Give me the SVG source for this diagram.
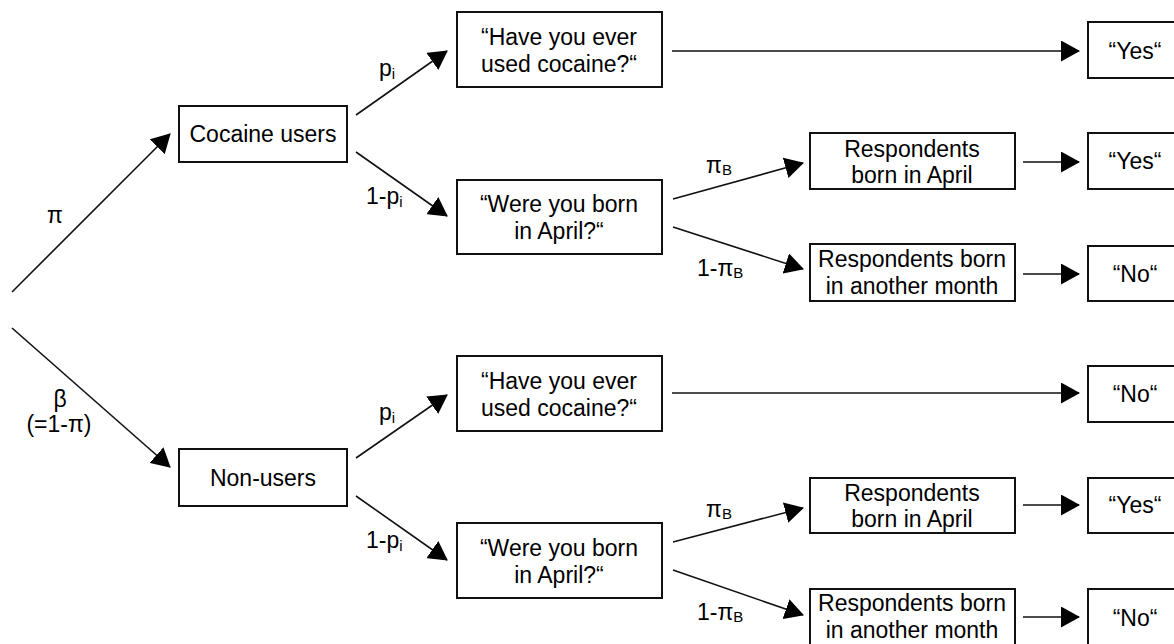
<svg xmlns="http://www.w3.org/2000/svg" width="1174" height="644" viewBox="0 0 1174 644">
  <style>
    .box { fill: #fff; stroke: #111; stroke-width: 2; }
    .t { font-family: "Liberation Sans", Arial, sans-serif; font-size: 23px; fill: #000; text-anchor: middle; }
    .lbl { font-family: "Liberation Sans", Arial, sans-serif; font-size: 23px; fill: #000; }
    .sub { font-size: 15px; }
    .edge { stroke: #111; stroke-width: 1.6; fill: none; marker-end: url(#arrow); }
  </style>
  <defs>
    <marker id="arrow" viewBox="0 0 19 21" refX="18" refY="10.5" markerWidth="19" markerHeight="21" markerUnits="userSpaceOnUse" orient="auto">
      <path d="M0,0 L19,10.5 L0,21 Z" fill="#000"/>
    </marker>
  </defs>
  <rect width="1174" height="644" fill="#fff"/>

  <!-- branches -->
  <g id="connectors">
    <line class="edge" x1="12" y1="292" x2="170" y2="134"/>
    <line class="edge" x1="12" y1="328" x2="170" y2="467"/>
    <line class="edge" x1="356" y1="115" x2="447" y2="51"/>
    <line class="edge" x1="356" y1="152" x2="447" y2="216"/>
    <line class="edge" x1="356" y1="458" x2="447" y2="395"/>
    <line class="edge" x1="356" y1="496" x2="447" y2="560"/>
    <line class="edge" x1="672" y1="51" x2="1079" y2="51"/>
    <line class="edge" x1="673" y1="199" x2="803" y2="163"/>
    <line class="edge" x1="673" y1="227" x2="803" y2="269"/>
    <line class="edge" x1="1023" y1="162" x2="1079" y2="162"/>
    <line class="edge" x1="1023" y1="274" x2="1079" y2="274"/>
    <line class="edge" x1="672" y1="393" x2="1079" y2="393"/>
    <line class="edge" x1="673" y1="542" x2="803" y2="508"/>
    <line class="edge" x1="673" y1="570" x2="803" y2="615"/>
    <line class="edge" x1="1023" y1="505" x2="1079" y2="505"/>
    <line class="edge" x1="1023" y1="617" x2="1079" y2="617"/>

    <!-- branch probabilities -->
    <text class="lbl" x="55" y="223" text-anchor="middle">π</text>
    <text class="lbl" x="60" y="407" text-anchor="middle">β</text>
    <text class="lbl" x="59" y="432" text-anchor="middle">(=1-π)</text>
    <text class="lbl" x="379" y="76">p<tspan class="sub" dy="3">i</tspan></text>
    <text class="lbl" x="366" y="204">1-p<tspan class="sub" dy="3">i</tspan></text>
    <text class="lbl" x="379" y="420">p<tspan class="sub" dy="3">i</tspan></text>
    <text class="lbl" x="366" y="548">1-p<tspan class="sub" dy="3">i</tspan></text>
    <text class="lbl" x="706" y="173">π<tspan class="sub" dy="2">B</tspan></text>
    <text class="lbl" x="697" y="276">1-π<tspan class="sub" dy="2">B</tspan></text>
    <text class="lbl" x="706" y="517">π<tspan class="sub" dy="2">B</tspan></text>
    <text class="lbl" x="697" y="620">1-π<tspan class="sub" dy="2">B</tspan></text>
  </g>

  <!-- population groups -->
  <g id="cocaine-users">
    <rect class="box" x="179" y="106" width="168" height="56"/>
    <text class="t" x="263" y="142">Cocaine users</text>
  </g>
  <g id="non-users">
    <rect class="box" x="179" y="449" width="168" height="57"/>
    <text class="t" x="263" y="486">Non-users</text>
  </g>

  <!-- questions -->
  <g id="q-cocaine-1">
    <rect class="box" x="457" y="12" width="205" height="75"/>
    <text class="t" x="559" y="45">“Have you ever</text>
    <text class="t" x="559" y="72">used cocaine?“</text>
  </g>
  <g id="q-april-1">
    <rect class="box" x="457" y="180" width="205" height="74"/>
    <text class="t" x="559" y="212">“Were you born</text>
    <text class="t" x="559" y="239">in April?“</text>
  </g>
  <g id="q-cocaine-2">
    <rect class="box" x="457" y="356" width="205" height="75"/>
    <text class="t" x="559" y="389">“Have you ever</text>
    <text class="t" x="559" y="416">used cocaine?“</text>
  </g>
  <g id="q-april-2">
    <rect class="box" x="457" y="523" width="205" height="75"/>
    <text class="t" x="559" y="556">“Were you born</text>
    <text class="t" x="559" y="583">in April?“</text>
  </g>

  <!-- birth month groups -->
  <g id="born-april-1">
    <rect class="box" x="810" y="133" width="205" height="56"/>
    <text class="t" x="912" y="157">Respondents</text>
    <text class="t" x="912" y="183">born in April</text>
  </g>
  <g id="born-other-1">
    <rect class="box" x="810" y="244" width="205" height="57"/>
    <text class="t" x="912" y="267">Respondents born</text>
    <text class="t" x="912" y="294">in another month</text>
  </g>
  <g id="born-april-2">
    <rect class="box" x="810" y="478" width="205" height="55"/>
    <text class="t" x="912" y="501">Respondents</text>
    <text class="t" x="912" y="527">born in April</text>
  </g>
  <g id="born-other-2">
    <rect class="box" x="810" y="589" width="205" height="58"/>
    <text class="t" x="912" y="611">Respondents born</text>
    <text class="t" x="912" y="638">in another month</text>
  </g>

  <!-- answers -->
  <g id="ans-1">
    <rect class="box" x="1088" y="22" width="94" height="56"/>
    <text class="t" x="1135" y="59">“Yes“</text>
  </g>
  <g id="ans-2">
    <rect class="box" x="1088" y="133" width="94" height="56"/>
    <text class="t" x="1135" y="169">“Yes“</text>
  </g>
  <g id="ans-3">
    <rect class="box" x="1088" y="246" width="94" height="55"/>
    <text class="t" x="1135" y="282">“No“</text>
  </g>
  <g id="ans-4">
    <rect class="box" x="1088" y="366" width="94" height="56"/>
    <text class="t" x="1135" y="402">“No“</text>
  </g>
  <g id="ans-5">
    <rect class="box" x="1088" y="478" width="94" height="55"/>
    <text class="t" x="1135" y="513">“Yes“</text>
  </g>
  <g id="ans-6">
    <rect class="box" x="1088" y="589" width="94" height="60"/>
    <text class="t" x="1135" y="626">“No“</text>
  </g>
</svg>
